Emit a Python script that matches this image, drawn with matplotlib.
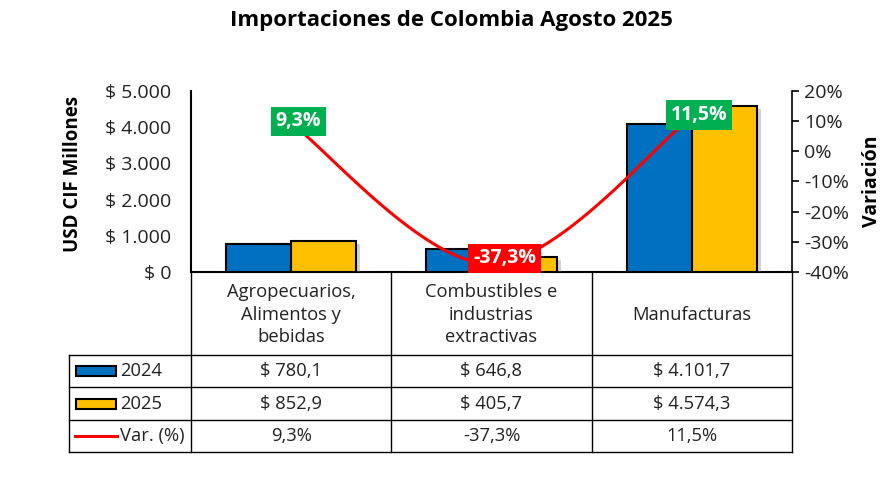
import numpy as np
import matplotlib.pyplot as plt
import matplotlib.patheffects as pe
from matplotlib.transforms import blended_transform_factory

plt.rcParams['font.family'] = ['Open Sans', 'DejaVu Sans']

# Datos
categorias = ["Agropecuarios,\nAlimentos y\nbebidas", "Combustibles e\nindustrias\nextractivas", "Manufacturas"]
v2024 = [780.1, 646.8, 4101.7]
v2025 = [852.9, 405.7, 4574.3]
variacion = [9.3, -37.3, 11.5]
yticks_izq = [0, 1000, 2000, 3000, 4000, 5000]
yticks_der = [-40, -30, -20, -10, 0, 10, 20]

AZUL = '#0070C0'
AMARILLO = '#FFC000'
ROJO = '#FF0000'
VERDE = '#00B050'


def fmt_num(v, dec=0):
    s = f"{v:,.{dec}f}"
    return s.replace(',', 'X').replace('.', ',').replace('X', '.')


def catmull_rom(x, y, n=60):
    # curva suavizada tipo Excel entre los puntos dados
    x = np.asarray(x, float)
    y = np.asarray(y, float)
    px = np.concatenate([[x[0]], x, [x[-1]]])
    py = np.concatenate([[y[0]], y, [y[-1]]])
    xs, ys = [], []
    for i in range(1, len(px) - 2):
        t = np.linspace(0, 1, n)
        for p, out in ((px, xs), (py, ys)):
            p0, p1, p2, p3 = p[i - 1], p[i], p[i + 1], p[i + 2]
            out.append(0.5 * (2 * p1 + (-p0 + p2) * t + (2 * p0 - 5 * p1 + 4 * p2 - p3) * t ** 2
                              + (-p0 + 3 * p1 - 3 * p2 + p3) * t ** 3))
    return np.concatenate(xs), np.concatenate(ys)


W, H = 887, 498
fig = plt.figure(figsize=(W / 100, H / 100), dpi=100)

# capa de fondo en pixeles para la tabla
capa = fig.add_axes([0, 0, 1, 1], zorder=0)
capa.set_xlim(0, W)
capa.set_ylim(H, 0)
capa.axis('off')

ax = fig.add_axes([191 / W, 1 - 272 / H, (792 - 191) / W, (272 - 91) / H], zorder=2)
ax.patch.set_alpha(0)
x = np.arange(len(categorias)) + 0.5
ancho = 0.325
sombra = [pe.SimplePatchShadow(offset=(3, -2), shadow_rgbFace='#808080', alpha=0.35), pe.Normal()]
b1 = ax.bar(x - ancho / 2, v2024, ancho, color=AZUL, edgecolor='black', linewidth=1.5, zorder=3)
b2 = ax.bar(x + ancho / 2, v2025, ancho, color=AMARILLO, edgecolor='black', linewidth=1.5, zorder=3)
for b in list(b1) + list(b2):
    b.set_path_effects(sombra)
ax.set_xlim(0, len(categorias))
ax.set_ylim(0, 5000)
ax.set_yticks(yticks_izq)
ax.set_yticklabels([f"$ {fmt_num(v)}" for v in yticks_izq], fontsize=14, color='#222222')
ax.tick_params(axis='y', length=0, pad=14)
ax.set_xticks([])
for s in ['top', 'right']:
    ax.spines[s].set_visible(False)
ax.spines['left'].set_linewidth(1.5)
ax.spines['bottom'].set_linewidth(1.5)

ax2 = ax.twinx()
ax2.set_ylim(-40, 20)
ax2.set_yticks(yticks_der)
ax2.set_yticklabels([f"{v}%" for v in yticks_der], fontsize=14, color='#222222')
ax2.tick_params(axis='y', length=5, width=1.2, pad=4)
for s in ['top', 'left', 'bottom']:
    ax2.spines[s].set_visible(False)
ax2.spines['right'].set_linewidth(1.2)
cx, cy = catmull_rom(x, variacion)
ax2.plot(cx, cy, color=ROJO, lw=2.2, zorder=4)
for xi, v in zip(x, variacion):
    color = VERDE if v >= 0 else ROJO
    dx = 0.035 if v >= 0 else 0.065
    dy = 0.6 if v >= 0 else 1.8
    ax2.text(xi + dx, v + dy, f"{fmt_num(v, 1)}%", ha='center', va='center',
             fontsize=14, fontweight='bold', color='white', zorder=5,
             bbox=dict(boxstyle='square,pad=0.25', fc=color, ec='none'))

# titulo y ejes
fig.text(451 / W, 1 - 20 / H, "Importaciones de Colombia Agosto 2025", ha='center', va='center',
         fontsize=16, fontweight='bold')
fig.text(73 / W, 1 - 174 / H, "USD CIF Millones", rotation=90, ha='center', va='center',
         fontsize=13.5, fontweight='bold')
fig.text(872 / W, 1 - 181 / H, "Variación", rotation=90, ha='center', va='center',
         fontsize=14, fontweight='bold')

# tabla de datos
tr = blended_transform_factory(ax.transData, capa.transData)
filas_y = [272, 355, 387, 420, 452]
bordes_x = np.arange(len(categorias) + 1)
for bx in bordes_x:
    capa.plot([bx, bx], [filas_y[0], filas_y[-1]], color='black', lw=1, transform=tr, clip_on=False)
for fy in filas_y[1:]:
    capa.plot([69, 792], [fy, fy], color='black', lw=1, clip_on=False)
capa.plot([69, 69], [filas_y[1], filas_y[-1]], color='black', lw=1, clip_on=False)

for xi, cat in zip(x, categorias):
    capa.text(xi, (filas_y[0] + filas_y[1]) / 2 + 1, cat, ha='center', va='center', fontsize=13.2,
              linespacing=1.33, color='#222222', transform=tr)

filas = [("2024", [f"$ {fmt_num(v, 1)}" for v in v2024], AZUL),
         ("2025", [f"$ {fmt_num(v, 1)}" for v in v2025], AMARILLO),
         ("Var. (%)", [f"{fmt_num(v, 1)}%" for v in variacion], None)]
for i, (nombre, textos, color) in enumerate(filas):
    yc = (filas_y[i + 1] + filas_y[i + 2]) / 2
    if color:
        capa.add_patch(plt.Rectangle((76, yc - 5), 40, 10, fc=color, ec='black', lw=1.5))
    else:
        capa.plot([75, 117], [yc, yc], color=ROJO, lw=2.2)
    capa.text(120, yc, nombre, ha='left', va='center', fontsize=13.2, color='#222222')
    for xi, t in zip(x, textos):
        capa.text(xi, yc, t, ha='center', va='center', fontsize=13.2, color='#222222', transform=tr)

fig.savefig('out.png', dpi=100)
